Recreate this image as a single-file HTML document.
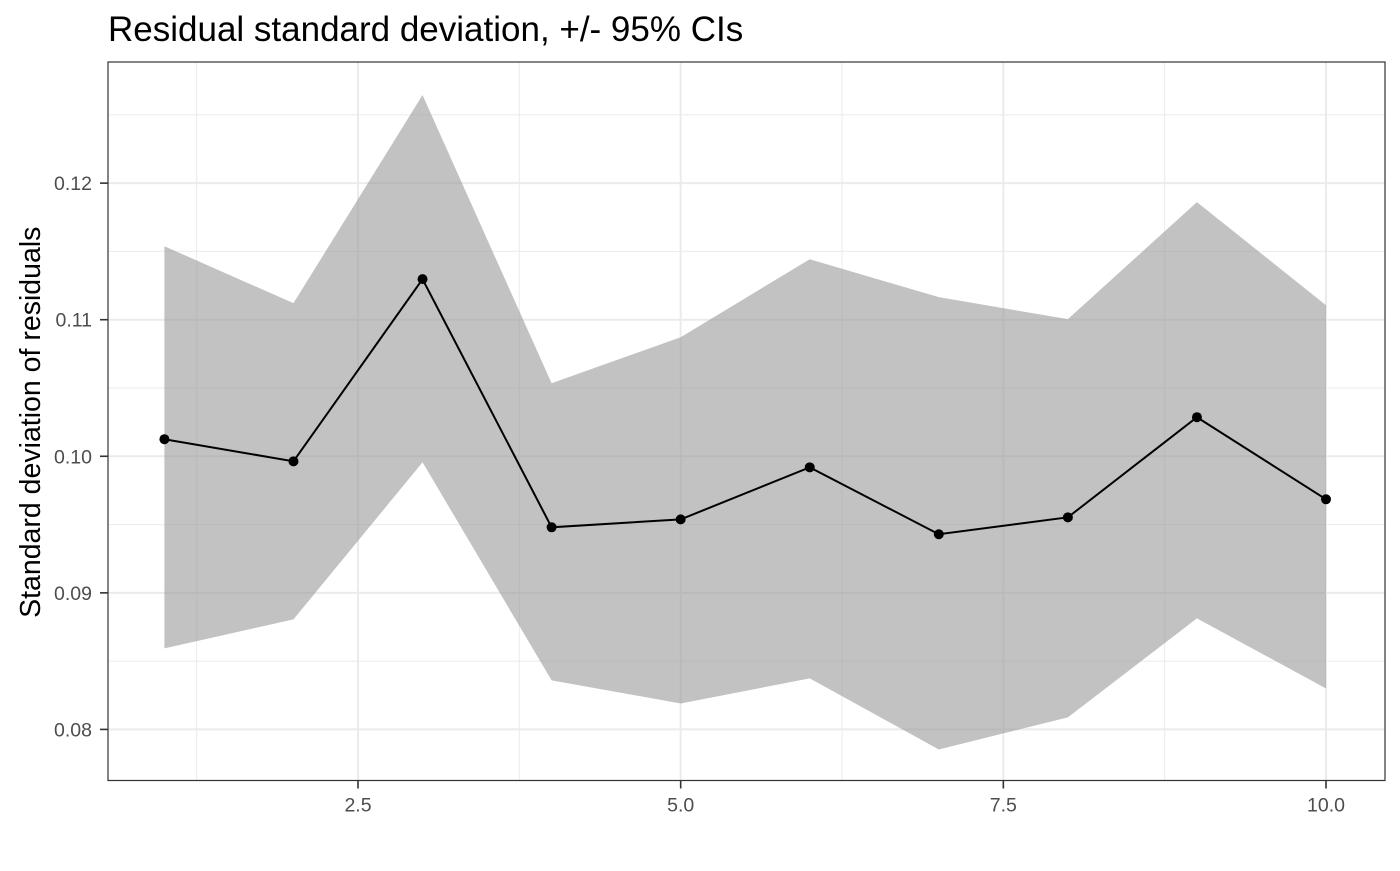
<!DOCTYPE html>
<html><head><meta charset="utf-8"><style>
body{margin:0;background:#fff;font-family:"Liberation Sans",Arial,sans-serif}
</style></head><body>
<svg id="chart" width="1400" height="866" xmlns="http://www.w3.org/2000/svg" font-family="Liberation Sans, Arial, sans-serif"></svg>
<script>
const xs=[1,2,3,4,5,6,7,8,9,10];
const meanVals=[0.10125,0.09963,0.11297,0.0948,0.09538,0.09919,0.09429,0.09553,0.10286,0.09685];
const upperVals=[0.11538,0.11121,0.12645,0.10535,0.10872,0.11443,0.11165,0.11004,0.11861,0.11106];
const lowerVals=[0.08593,0.08806,0.09956,0.08359,0.0819,0.08374,0.07853,0.08088,0.08813,0.083];
const xTicks=[2.5,5.0,7.5,10.0];
const xTickLabels=["2.5","5.0","7.5","10.0"];
const xMinor=[1.25,3.75,6.25,8.75];
const yTicks=[0.08,0.09,0.10,0.11,0.12];
const yTickLabels=["0.08","0.09","0.10","0.11","0.12"];
const yMinor=[0.085,0.095,0.105,0.115,0.125];

const L=108,R=1385,T=62,B=780.5;
const xd=[0.563,10.457], yd=[0.07626,0.12887];
const X=v=>L+(v-xd[0])/(xd[1]-xd[0])*(R-L);
const Y=v=>B-(v-yd[0])/(yd[1]-yd[0])*(B-T);
const svg=document.getElementById('chart');
const NS="http://www.w3.org/2000/svg";
function mk(tag,attrs,name,parent){const e=document.createElementNS(NS,tag);for(const k in attrs)e.setAttribute(k,attrs[k]);


(parent||svg).appendChild(e);return e;}
mk('rect',{x:L,y:T,width:R-L,height:B-T,fill:'#fff'},'panel-background');
xMinor.forEach(v=>mk('line',{x1:X(v),x2:X(v),y1:T,y2:B,stroke:'#ebebeb','stroke-width':1},'x-minor-grid'));
yMinor.forEach(v=>mk('line',{x1:L,x2:R,y1:Y(v),y2:Y(v),stroke:'#ebebeb','stroke-width':1},'y-minor-grid'));
xTicks.forEach(v=>mk('line',{x1:X(v),x2:X(v),y1:T,y2:B,stroke:'#ebebeb','stroke-width':2},'x-major-grid'));
yTicks.forEach(v=>mk('line',{x1:L,x2:R,y1:Y(v),y2:Y(v),stroke:'#ebebeb','stroke-width':2},'y-major-grid'));
let pts=xs.map((x,i)=>X(x)+','+Y(upperVals[i])).concat(xs.slice().reverse().map((x,j)=>{const i=xs.length-1-j;return X(x)+','+Y(lowerVals[i]);}));
mk('polygon',{points:pts.join(' '),fill:'#999','fill-opacity':0.6},'confidence-band');
mk('polyline',{points:xs.map((x,i)=>X(x)+','+Y(meanVals[i])).join(' '),fill:'none',stroke:'#000','stroke-width':2},'mean-line');
xs.forEach((x,i)=>mk('circle',{cx:X(x),cy:Y(meanVals[i]),r:5,fill:'#000'},'mean-point'));
mk('rect',{x:L,y:T,width:R-L,height:B-T,fill:'none',stroke:'#333','stroke-width':1.2},'panel-border');
xTicks.forEach((v,i)=>{mk('line',{x1:X(v),x2:X(v),y1:B,y2:B+8,stroke:'#333','stroke-width':1.6},'x-tick');
const t=mk('text',{x:X(v),y:B+31,'text-anchor':'middle','font-size':19.5,fill:'#4d4d4d'},'x-tick-label');t.textContent=xTickLabels[i];});
yTicks.forEach((v,i)=>{mk('line',{x1:L-8,x2:L,y1:Y(v),y2:Y(v),stroke:'#333','stroke-width':1.6},'y-tick');
const t=mk('text',{x:L-16,y:Y(v)+7,'text-anchor':'end','font-size':19.5,fill:'#4d4d4d'},'y-tick-label');t.textContent=yTickLabels[i];});
const yt=mk('text',{x:0,y:0,transform:`translate(40,${(T+B)/2+1}) rotate(-90)`,'text-anchor':'middle','font-size':28.5,fill:'#000'},'y-axis-title');yt.textContent='Standard deviation of residuals';
const tt=mk('text',{x:108,y:41,'font-size':35,fill:'#000'},'chart-title');tt.textContent='Residual standard deviation, +/- 95% CIs';
</script>
</body></html>
